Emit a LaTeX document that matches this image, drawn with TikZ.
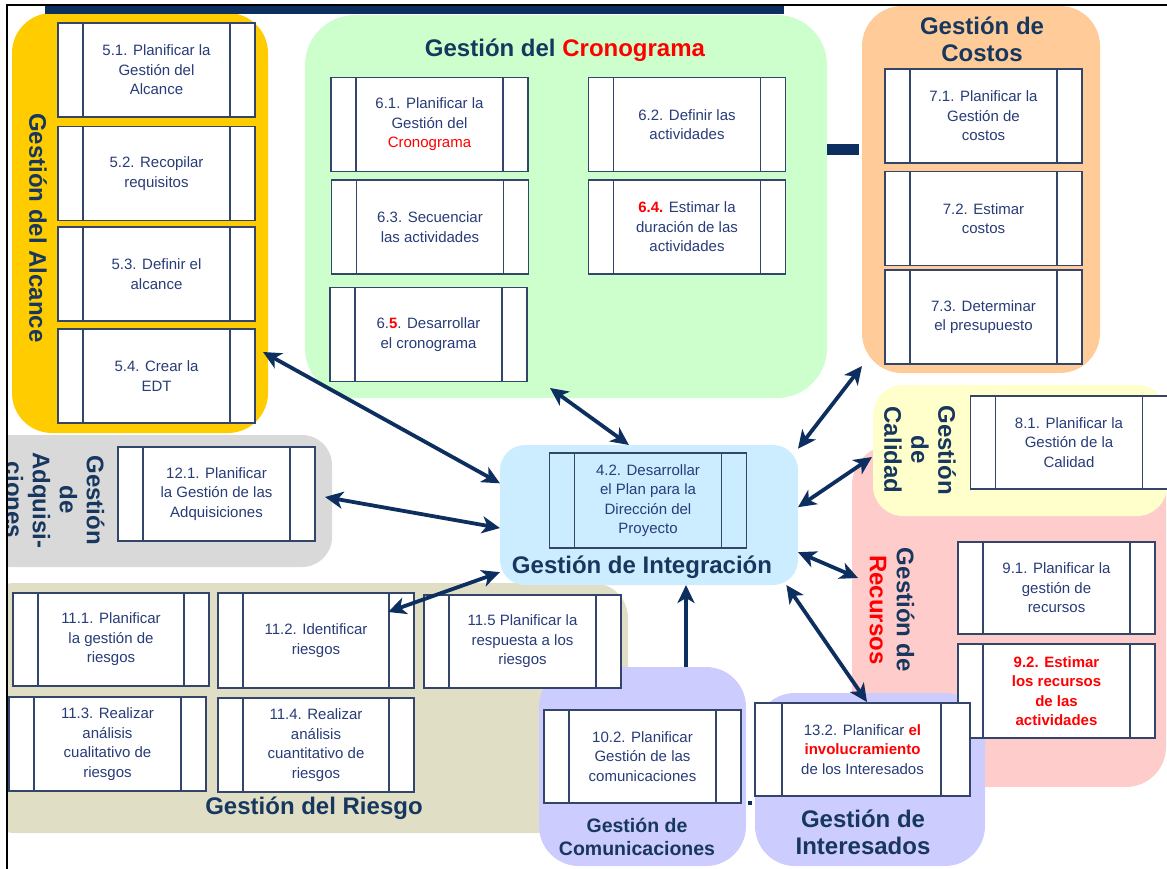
\documentclass[tikz,border=0pt]{standalone}
\usepackage{fontspec}
\setmainfont{Liberation Sans}
\usetikzlibrary{arrows.meta}

\definecolor{navy}{HTML}{0D2F5F}
\definecolor{ttlcol}{HTML}{17375E}
\definecolor{boxline}{HTML}{34456B}
\definecolor{boxtext}{HTML}{283C78}
\definecolor{gold}{HTML}{FFCC00}
\definecolor{mint}{HTML}{CCFFCC}
\definecolor{peach}{HTML}{FFCC99}
\definecolor{cream}{HTML}{FFFFCC}
\definecolor{rose}{HTML}{FFCCCC}
\definecolor{sky}{HTML}{CCECFF}
\definecolor{silver}{HTML}{D9D9D9}
\definecolor{khaki}{HTML}{E0DFC6}
\definecolor{lilac}{HTML}{CCCCFF}
\definecolor{alert}{HTML}{FF0000}

\newcommand\bxfont{\fontsize{15}{19.5}\selectfont}
\newcommand\ttlfont{\fontsize{24}{27}\selectfont\bfseries}

\tikzset{
  region/.style={inner sep=0pt, outer sep=0pt, rounded corners=#1},
  region/.default=40pt,
  procbox/.style={draw=boxline, line width=1.4pt, fill=white,
    minimum width=197pt, minimum height=94pt, inner sep=0pt,
    align=center, font=\bxfont, text=boxtext,
    path picture={
      \draw[boxline, line width=1.4pt]
        ([xshift=25pt]path picture bounding box.north west) --
        ([xshift=25pt]path picture bounding box.south west)
        ([xshift=-25pt]path picture bounding box.north east) --
        ([xshift=-25pt]path picture bounding box.south east);}},
  ttl/.style={font=\ttlfont, text=ttlcol, align=center, inner sep=0pt},
  link/.style={draw=navy, line width=3.8pt,
    {Stealth[length=18pt,width=17pt,inset=5pt]}-{Stealth[length=18pt,width=17pt,inset=5pt]}},
  uplink/.style={draw=navy, line width=3.8pt,
    -{Stealth[length=18pt,width=17pt,inset=5pt]}}
}

\begin{document}
\begin{tikzpicture}[x=1pt,y=-1pt]
\useasboundingbox (0,0) rectangle (1167,869);

\begin{scope}
\clip (8,6) rectangle (1167,869);

% knowledge-area backgrounds
\node[region=40pt, fill=gold, minimum width=256pt, minimum height=420pt] (alcance) at (140,223) {};
\node[region=50pt, fill=mint, minimum width=522pt, minimum height=383pt] (crono) at (566,206.5) {};
\node[region=40pt, fill=peach, minimum width=238pt, minimum height=367pt] (costos) at (981,189.5) {};
\node[region=40pt, fill=rose, minimum width=314pt, minimum height=342pt] (recursos) at (1009,616) {};
\node[region=30pt, fill=cream, minimum width=294pt, minimum height=131pt] (calidad) at (1020,450.5) {};
\node[region=30pt, fill=silver, minimum width=352pt, minimum height=132pt] (adq) at (156,501) {};
\node[region=35pt, fill=khaki, minimum width=648pt, minimum height=250pt] (riesgo) at (304,708) {};
\node[region=25pt, fill=sky, minimum width=298pt, minimum height=140pt] (integ) at (649,515) {};
\node[region=40pt, fill=lilac, minimum width=207pt, minimum height=199pt] (comm) at (642.5,766.5) {};
\node[region=40pt, fill=lilac, minimum width=230pt, minimum height=173pt] (inter) at (870,779.5) {};

% navy bars
\fill[navy] (45,6) rectangle (784,14);
\fill[navy] (827,144) rectangle (859,155);
\fill[navy] (748,801) rectangle (752,805);

% Alcance
\node[procbox] (b51) at (156.5,70) {5.1. Planificar la\\Gestión del\\Alcance};
\node[procbox] (b52) at (156.5,173.5) {5.2. Recopilar\\requisitos};
\node[procbox] (b53) at (156.5,274) {5.3. Definir el\\alcance};
\node[procbox] (b54) at (156.5,376) {5.4. Crear la\\EDT};
\node[ttl, rotate=-90] (talc) at (38,228) {Gestión del Alcance};

% Cronograma
\node[ttl] (tcro) at (565,50) {Gestión del \textcolor{alert}{Cronograma}};
\node[procbox] (b61) at (429.5,124.5) {6.1. Planificar la\\Gestión del\\\textcolor{alert}{Cronograma}};
\node[procbox] (b62) at (687,124.5) {6.2. Definir las\\actividades};
\node[procbox] (b63) at (430,227) {6.3. Secuenciar\\las actividades};
\node[procbox] (b64) at (687,227) {\textcolor{alert}{\bfseries 6.4.} Estimar la\\duración de las\\actividades};
\node[procbox] (b65) at (428.5,334.5) {6.\textcolor{alert}{\bfseries 5}. Desarrollar\\el cronograma};

% Costos
\node[ttl] (tcos) at (982,39) {Gestión de\\Costos};
\node[procbox] (b71) at (983.5,116) {7.1. Planificar la\\Gestión de\\costos};
\node[procbox] (b72) at (983.5,218.5) {7.2. Estimar\\costos};
\node[procbox] (b73) at (983.5,317) {7.3. Determinar\\el presupuesto};

% Calidad
\node[procbox, minimum height=93pt] (b81) at (1069,442.5) {8.1. Planificar la\\Gestión de la\\Calidad};
\node[ttl, rotate=-90] (tcal) at (920,450) {Gestión\\de\\Calidad};

% Recursos
\node[ttl, rotate=-90] (trec) at (892,610) {Gestión de\\\textcolor{alert}{Recursos}};
\node[procbox, minimum height=92pt] (b91) at (1056.5,588) {9.1. Planificar la\\gestión de\\recursos};
\node[procbox] (b92) at (1056.5,691) {\color{alert}\bfseries 9.2. Estimar\\\color{alert}\bfseries los recursos\\\color{alert}\bfseries de las\\\color{alert}\bfseries actividades};

% Integracion
\node[procbox, fill=sky, minimum height=95pt] (b42) at (648,500.5) {4.2. Desarrollar\\el Plan para la\\Dirección del\\Proyecto};
\node[ttl] (tint) at (642,567) {Gestión de Integración};

% Adquisiciones
\node[procbox] (b121) at (216.5,494) {12.1. Planificar\\la Gestión de las\\Adquisiciones};
\node[ttl, rotate=-90] (tadq) at (55,500) {Gestión\\de\\Adquisi-\\ciones};

% Riesgo
\node[procbox, minimum width=196pt, minimum height=93pt] (b111) at (111,639.5) {11.1. Planificar\\la gestión de\\riesgos};
\node[procbox, minimum width=196pt, minimum height=95pt] (b112) at (316,640.5) {11.2. Identificar\\riesgos};
\node[procbox, minimum height=93pt] (b115) at (522.5,641.5) {11.5 Planificar la\\respuesta a los\\riesgos};
\node[procbox] (b113) at (107.5,744) {11.3. Realizar\\análisis\\cualitativo de\\riesgos};
\node[procbox, minimum width=196pt] (b114) at (316,745) {11.4. Realizar\\análisis\\cuantitativo de\\riesgos};
\node[ttl] (trie) at (314,808) {Gestión del Riesgo};

% Comunicaciones
\node[procbox, minimum height=93pt] (b102) at (642.5,756.5) {10.2. Planificar\\Gestión de las\\comunicaciones};
\node[ttl, font=\fontsize{19.5}{23}\selectfont\bfseries] (tcom) at (637,836.5) {Gestión de\\Comunicaciones};

% Interesados
\node[procbox, minimum width=215pt, minimum height=93pt,
  path picture={\draw[boxline, line width=1.4pt]
    ([xshift=27pt]path picture bounding box.north west) --
    ([xshift=27pt]path picture bounding box.south west)
    ([xshift=-29pt]path picture bounding box.north east) --
    ([xshift=-29pt]path picture bounding box.south east);}]
  (b132) at (862.5,749.5) {13.2. Planificar \textcolor{alert}{\bfseries el}\\\textcolor{alert}{\bfseries involucramiento}\\de los Interesados};
\node[ttl] (tinter) at (863,832.5) {Gestión de\\Interesados};

% connector ends
\coordinate (p1) at (263,352);
\coordinate (p2) at (325,497);
\coordinate (p3) at (388,612);
\coordinate (p4) at (550,388);
\coordinate (p5) at (862,366);
\coordinate (p6) at (872,457);
\coordinate (p7) at (858,578);
\coordinate (p8) at (686,667);
\coordinate (p9) at (867,702);

% connectors to the integration area
\draw[link] (p1) -- (integ.168);
\draw[link] (p2) -- (integ.185);
\draw[link] (p3) -- (integ.201);
\draw[link] (p4) -- (integ.106);
\draw[link] (p5) -- (integ.24);
\draw[link] (p6) -- (integ.3);
\draw[link] (p7) -- (integ.-14);
\draw[uplink] (p8) -- (p8 |- integ.south);
\draw[link] (integ.-27) -- (p9);
\end{scope}

% frame
\draw[black, line width=2pt] (7,869) -- (7,5) -- (1167,5);
\end{tikzpicture}
\end{document}
